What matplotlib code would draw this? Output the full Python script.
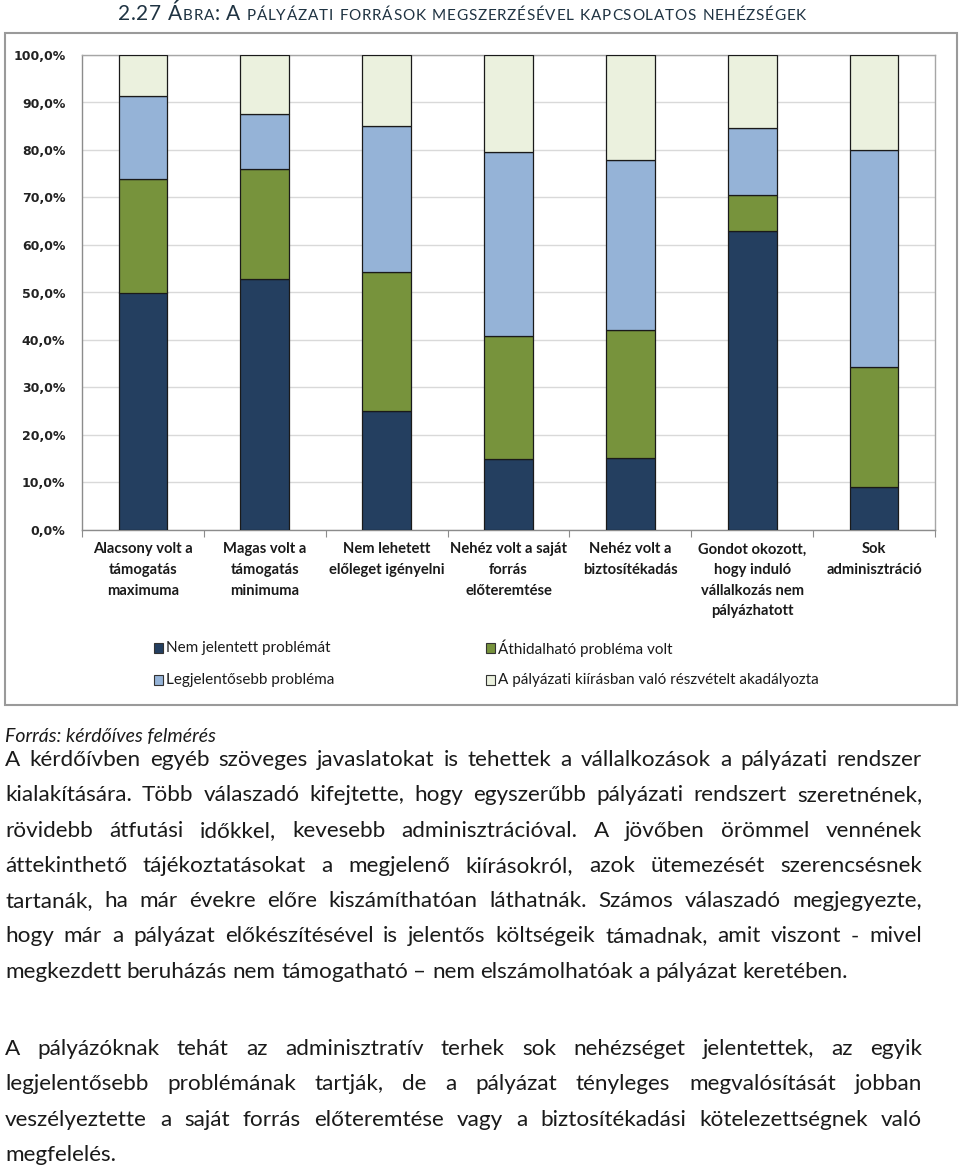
import matplotlib
matplotlib.use("Agg")
import matplotlib.pyplot as plt
from matplotlib.patches import Rectangle
import numpy as np

W, H = 960, 1170

categories = [
    "Alacsony volt a\ntámogatás\nmaximuma",
    "Magas volt a\ntámogatás\nminimuma",
    "Nem lehetett\nelőleget igényelni",
    "Nehéz volt a saját\nforrás\nelőteremtése",
    "Nehéz volt a\nbiztosítékadás",
    "Gondot okozott,\nhogy induló\nvállalkozás nem\npályázhatott",
    "Sok\nadminisztráció",
]
series_names = [
    "Nem jelentett problémát",
    "Áthidalható probléma volt",
    "Legjelentősebb probléma",
    "A pályázati kiírásban való részvételt akadályozta",
]
nem_jelentett = [50.0, 52.8, 25.1, 14.9, 15.2, 62.9, 9.1]
athidalhato = [23.9, 23.2, 29.2, 25.9, 26.9, 7.6, 25.2]
legjelentosebb = [17.5, 11.6, 30.8, 38.8, 35.8, 14.1, 45.7]
akadalyozta = [8.6, 12.4, 14.9, 20.4, 22.1, 15.4, 20.0]
colors = ["#243f60", "#77933c", "#95b3d7", "#ebf1de"]

title_text = "2.27 Ábra: A pályázati források megszerzésével kapcsolatos nehézségek"
source_text = "Forrás: kérdőíves felmérés"
paragraphs = [
    ["A kérdőívben egyéb szöveges javaslatokat is tehettek a vállalkozások a pályázati rendszer",
     "kialakítására. Több válaszadó kifejtette, hogy egyszerűbb pályázati rendszert szeretnének,",
     "rövidebb átfutási időkkel, kevesebb adminisztrációval. A jövőben örömmel vennének",
     "áttekinthető tájékoztatásokat a megjelenő kiírásokról, azok ütemezését szerencsésnek",
     "tartanák, ha már évekre előre kiszámíthatóan láthatnák. Számos válaszadó megjegyezte,",
     "hogy már a pályázat előkészítésével is jelentős költségeik támadnak, amit viszont - mivel",
     "megkezdett beruházás nem támogatható – nem elszámolhatóak a pályázat keretében."],
    ["A pályázóknak tehát az adminisztratív terhek sok nehézséget jelentettek, az egyik",
     "legjelentősebb problémának tartják, de a pályázat tényleges megvalósítását jobban",
     "veszélyeztette a saját forrás előteremtése vagy a biztosítékadási kötelezettségnek való",
     "megfelelés."],
]
para_tops = [760, 1049]
line_step = 35.3

fig = plt.figure(figsize=(W / 100, H / 100), dpi=100)
renderer = fig.canvas.get_renderer()


def fx(x):
    return x / W


def fy(y):
    return 1 - y / H


def text_width(t):
    return t.get_window_extent(renderer).width


# chart frame
fig.patches.append(Rectangle((fx(5), fy(705)), fx(952), 672 / H, transform=fig.transFigure,
                             fill=False, edgecolor="#9a9a9a", lw=1.5))

ax = fig.add_axes([fx(82), fy(530), fx(853), 475 / H])
x = np.arange(len(categories))
bottom = np.zeros(len(categories))
for vals, c, name in zip([nem_jelentett, athidalhato, legjelentosebb, akadalyozta], colors, series_names):
    ax.bar(x, vals, 0.4, bottom=bottom, color=c, edgecolor="#1a1a1a", lw=0.9, label=name, zorder=3)
    bottom += np.array(vals)

ax.set_xlim(-0.5, len(categories) - 0.5)
ax.set_ylim(0, 100)
ax.set_yticks(np.arange(0, 101, 10))
ax.set_yticklabels([f"{v},0%" for v in range(0, 101, 10)], fontsize=9, fontweight="bold",
                   family="DejaVu Sans", color="#222222")
ax.yaxis.grid(True, color="#d9d9d9", lw=1, zorder=0)
ax.tick_params(axis="y", length=0, pad=12)
ax.set_xticks(np.arange(-0.5, len(categories) + 0.5, 1))
ax.set_xticklabels([])
ax.tick_params(axis="x", length=5, color="#8c8c8c", direction="out")
for s in ax.spines.values():
    s.set_color("#a6a6a6")
    s.set_linewidth(1)
ax.spines["left"].set_color("#8c8c8c")
ax.spines["bottom"].set_color("#8c8c8c")
for i, lab in enumerate(categories):
    ax.text(i, -2.6, lab, ha="center", va="top", fontsize=10.6, family="Lato", fontweight="bold",
            color="#1a1a1a", linespacing=1.6)

# legend
leg_pos = [(158, 648), (490, 648), (158, 680), (490, 680)]
for (lx, ly), c, name in zip(leg_pos, colors, series_names):
    fig.patches.append(Rectangle((fx(lx - 4), fy(ly + 5)), 9 / W, 10 / H, transform=fig.transFigure,
                                 facecolor=c, edgecolor="#333333", lw=0.8))
    fig.text(fx(lx + 8), fy(ly), name, ha="left", va="center", fontsize=11,
             family="Lato", color="#1a1a1a")

# title in small caps
big, small = 15, 11
pieces = []
for ch in title_text:
    if ch.islower():
        pieces.append((ch.upper(), small))
    else:
        pieces.append((ch, big))
objs = [fig.text(0, fy(20), ch, fontsize=sz, family="Lato", color="#1f3342", va="baseline")
        for ch, sz in pieces]
widths = [text_width(t) if ch != " " else 0 for t, (ch, sz) in zip(objs, pieces)]
space_w = 5.0
natural = sum(widths) + space_w * title_text.count(" ")
extra = (806 - 118 - natural) / (len(pieces) - 1)
cx = 118
for t, (ch, sz), w in zip(objs, pieces, widths):
    t.set_x(fx(cx))
    cx += (w if ch != " " else space_w) + extra

fig.text(fx(5), fy(736), source_text, fontsize=14, family="Lato", style="italic",
         va="center", ha="left", color="#1a1a1a")

# justified body text
left, right = 5, 922
for top, lines in zip(para_tops, paragraphs):
    for li, line in enumerate(lines):
        y = top + li * line_step
        words = line.split(" ")
        objs = [fig.text(0, fy(y), w, fontsize=16.2, family="Lato", va="center", ha="left",
                         color="#1a1a1a") for w in words]
        ws = [text_width(t) for t in objs]
        last = li == len(lines) - 1
        gap = 5.5 if last or len(words) == 1 else (right - left - sum(ws)) / (len(words) - 1)
        cx = left
        for t, w in zip(objs, ws):
            t.set_x(fx(cx))
            cx += w + gap

fig.savefig("out.png", dpi=100)
